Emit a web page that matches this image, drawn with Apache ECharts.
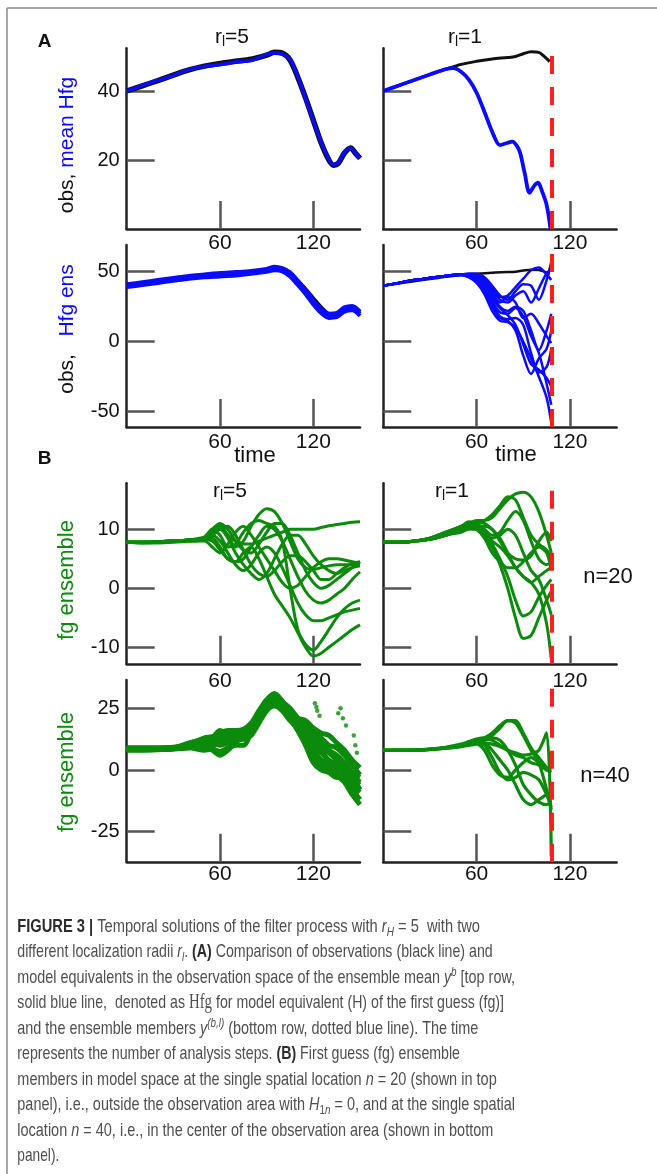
<!DOCTYPE html>
<html><head><meta charset="utf-8">
<script src="https://cdn.jsdelivr.net/npm/echarts@6/dist/echarts.min.js"></script>
<style>html,body{margin:0;padding:0;background:#fff;}#c{width:657px;height:1174px;}</style>
</head><body><div id="c"></div>
<script>
// ---------------- DATA ----------------
const xTicks = [60, 120];
const yTicksA1 = [20, 40];
const yTicksA2 = [-50, 0, 50];
const yTicksB1 = [-10, 0, 10];
const yTicksB2 = [-25, 0, 25];
const breakTime = 108.6;

// Panel A, top row (r_l = 5)
const timeA5 = [0,10,20,30,40,50,60,70,80,90,95,100,105,110,115,120,125,130,133,136,140,144,147,150];
const obsR5 = [40,41.5,43,44.6,46.1,47.2,48,48.6,49.2,50.4,51.2,51,49,44,38,31.5,25,20,18.5,19,22,23.5,22,20.5];
const meanHfgR5 = [40,41.6,43.1,44.5,46.2,47.1,47.6,48.4,48.8,50.6,51,50.7,49.2,44.2,37.8,31.3,25.2,20.2,18.6,19.2,22.2,23.4,22.1,20.4];

// Panel A, r_l = 1
const timeObsR1 = [0,10,20,30,40,50,60,70,80,85,90,95,100,104,107];
const obsR1 = [40,41.6,43.2,44.8,46.3,47.7,48.6,49.3,49.7,50,50.8,51.4,51.2,49.8,48.5];
const timeMeanR1 = [0,10,20,30,40,45,50,55,60,65,70,75,80,83,86,88,91,94,97,99.5,102,105,107.5];
const meanHfgR1 = [40,41.6,43.2,44.8,46.3,46.6,45.6,43.3,39.5,34,28.2,24.3,25,25.3,24,22,16,10.5,12.5,13.4,11,7,0];

// Panel A, bottom row: ensemble members in observation space
const timeEnsR5 = [0,10,20,30,40,50,60,70,80,90,95,100,105,110,115,120,125,130,135,140,145,150];
const hfgEnsR5 = [
  [40,41.5,43,44.5,46,47,47.8,48.5,49.5,51,52.4,51.5,48,42,35.5,28,22,18.5,19,23,24,20],
  [41,42.5,44,45.5,47,48,49,49.7,50.5,52,53.5,52.5,49.5,43.5,37,29.5,23.5,20,20.5,24.5,25.5,21.5],
  [39,40.5,42,43.5,45,46,46.6,47.3,48.5,50,51,50.3,46.5,40.5,34,26.5,20.5,17,17.5,21.5,22.5,18.5]
];
const timeR1 = [0,10,20,30,40,50,55,60,65,70,75,80,85,90,95,100,105,108];
const hfgEnsR1 = [
  [40,42,44,45.5,47,47.5,46,42,34,22,15,14,10,0,-12,-25,-40,-58],
  [40,42,44,45.5,47,47.8,47,45,38,27,18,16,17,12,-8,-22,-18,-5],
  [40,42,44,45.5,47,48,48,47,42,33,25,22,25,22,8,-6,8,20],
  [40,42,44,45.5,47,48,48.5,48.5,46,40,33,30,36,41,40,30,44,57],
  [40,42,44,45.5,47,47.8,46.5,43,36,25,17,15,8,-10,-23,-12,-5,8],
  [40,42,44,45.5,47,48,48,47.5,44,37,30,28,33,36,28,38,49,52],
  [40,42,44,45.5,47,47.8,47,44.5,39,29,21,20,24,18,4,-8,-30,-45],
  [40,42,44,45.5,47,48,47.5,45.5,40,31,24,19,12,-2,-16,-20,-26,-32],
  [40,42,44,45.5,47,48,48,47,43,35,28,32,28,17,20,13,4,-1],
  [40,42,44,45.5,47,48,48.5,48,45,38,32,33,39,45,51,53,48,44]
];

// Panel B: first guess ensemble in model space
const timeB5 = [0,10,20,30,40,50,55,60,65,70,75,80,85,90,95,100,105,110,115,120,125,130,135,140,145,150];
const fgN20R5 = [
  [7.8,7.8,7.9,8,8.2,8.5,9.5,10.5,9,7,8,10.5,12.5,13.5,13,11,8,5,3.5,3.2,3.5,3.8,4,4,4,4],
  [7.8,7.7,7.8,8,8,8,7,6,7.5,9.5,10.5,9,7,5,3,1,0,0.5,2,3.5,4.5,5,5,4.8,4.5,4.2],
  [7.8,7.8,7.9,8,8.2,8.5,10,10.5,9,8,7.5,7.5,8,8.5,9,9.5,10,10,10,10,10.3,10.6,10.8,11,11.2,11.3],
  [7.8,7.8,7.9,8,8.2,8.7,10,9,7,7.5,9.5,11,11.5,11,10.5,8,0,-7,-9.5,-10.5,-9,-7,-5,-3.5,-2.5,-2],
  [7.8,7.8,7.9,8,8,8.2,8.5,7,5,4.5,6,7,5,2,-1,-3,-5,-7.5,-10,-11.5,-11,-10,-9,-8,-7,-6.2],
  [7.8,7.8,7.9,8,8.2,8.5,9,8,6,4,3,4,6,7,6,3.5,0.5,-2.5,-4.5,-5.5,-5.5,-5,-4.5,-4,-3.7,-3.4],
  [7.8,7.7,7.7,7.8,8,8.3,9,10,10.5,9,6.5,4,2.5,2,3,4.5,5.5,5.5,4.5,3,1.5,1.5,2.5,3.5,4.2,4.5],
  [7.8,7.8,7.9,8,8.2,8.5,9.5,10,8.5,6,4,2.5,1.5,2.5,5,7.5,9,9,7.5,5.5,4,3,2.5,3,3.5,3.8],
  [7.8,7.8,7.9,8,8.2,8.3,8,6.5,5,4.5,5,7,9,10.5,10,8,5,2,-0.5,-2,-2.5,-2,-1,0,1.5,2.8],
  [7.8,7.8,7.9,8,8.2,8.5,10,11,10,8,6.5,6,7.5,9.5,11,11,9,6,3,1,0,0.5,1.5,2.5,3.5,4.5]
];
const fgN20R1 = [
  [7.8,7.8,8,8.5,9.5,10.5,11,11.5,11.5,12,13.5,15,16,16.3,15.5,13,9,6],
  [7.8,7.8,8,8.3,9,9.5,10,10,9,7,4,0,-5,-8.5,-8,-5,-2,-0.5],
  [7.8,7.8,8,8.3,9,10,10.5,10.5,9.5,7.5,5,2,-2,-4.7,-4,-1.5,0.5,1.5],
  [7.8,7.8,8,8.5,9.3,10.5,11.3,11,10,9,9.5,11.5,13,11.5,8,5,4,4.5],
  [7.8,7.8,8,8.3,9,10,10.5,10,8.5,6,4.5,3.5,3.5,4.5,6,7,6,3],
  [7.8,7.8,8,8.5,9.3,10.5,11,11.2,11,10,8.5,6,3.5,2,1,-1,-6,-12],
  [7.8,7.8,8,8.4,9.2,10,10.8,11,11.5,12.5,14,15.5,15,12,9,7.5,6.5,5],
  [7.8,7.8,8,8.3,9,10,10.5,10.5,10.5,10,8,6,5,4.8,5.5,8,9.5,8],
  [7.8,7.8,8,8.3,9,9.8,10.2,10,9,8,7,5.5,3.5,2,1,2,3,3.5],
  [7.8,7.8,8,8.5,9.5,10.5,11,10.5,9.5,8.5,9,10,9,6,3,1.5,-2,-4.5]
];
const fgN40R5 = [
  [8,8,8.2,8.5,9,8,8.5,7.5,9,10,10,15,21,26,27,25,21,16,11,6,2,0,-2,-4,-8,-12],
  [9,9,9,9.2,10.5,13,13.5,15,16,16,16.5,19,24,28.5,31,28,24,20,18,15,13,10,9,6,2,-2],
  [8.5,8.5,8.5,8.6,9,9.5,10,11,12.5,14,15,17,22,27,29,27,23,20,16,12,8,3,-2,-5,-10,-14],
  [8.2,8.2,8.3,8.6,10,11,12,14,15,15,14.5,16,20,25,27,26,21,16,10,3,0,-1,-3,-1,-4,-6],
  [8.8,8.8,8.8,9,9.5,10.5,12,13,14,15.5,16,18,23,27.5,29.5,27,23,21,20,17,15,14,11,8,4,1],
  [8.5,8.5,8.6,8.8,9.7,10,8,6,8,11,14,17.5,22,26,26,24,20,17,13,9,7,4,2,0,-3,-8],
  [8.3,8.3,8.4,8.7,9.2,10.5,11.5,12.5,12,13,14,16,21,26.5,28.5,27.5,25,21,17,14,11,8,6,3,-1,-3],
  [8.7,8.7,8.7,9,10,11.5,13,16,14,13.5,15,17.5,22.5,28,30,26,21.5,18,15,11,9,7,4,1,-2,-5],
  [8.4,8.4,8.5,8.8,11,12,11,10,11,12,12.5,14,19,24,26,25,22,18,14,8,4,2,0,-3,-6,-9]
];
const outliersN40R5 = [[121,27],[122,25.5],[122.5,24],[124,22],[136,23],[137.5,25],[139,21],[141,18],[146,14],[147,10],[148,7]];
const fgN40R1 = [
  [8,8,8,8.5,9,10,10.5,11,12,14,17,20,20,15,9,5,1,0],
  [8,8,8,8.3,8.8,9.5,10,10.5,8,2,-2,-3,0,3,5,3,0,-0.5],
  [8,8,8.1,8.4,9,10,11,11.5,11,8,4,0,-6,-12,-14,-12,-10,-9],
  [8,8,8,8.3,8.9,9.8,10.5,12,13,15,18,20,19,14,8,3,-8,-16],
  [8,8,8,8.4,9,10,11,12,12.5,12,10,8,6,5,3,2,0,-1],
  [8,8,8,8.3,8.8,9.5,10.5,11,10,5,-1,-4,-3,-1,-2,-4,-10,-15],
  [8,8,8.1,8.5,9.2,10.5,11.5,12.5,13,13,12,8,2,-6,-10,-13,-14,-13],
  [8,8,8,8.3,9,10,11,11.5,11,10.5,9.5,8,7,6,6.5,8,15,-35]
];

// ---------------- CHART ----------------
const F = '"Liberation Sans", Arial, Helvetica, sans-serif';
const BLUE = '#0a0aff', GREEN = '#0c8a0c', BLACK = '#111', RED = '#ff1e1e';
const pairs = (t, v) => t.map((x, i) => [x, v[i]]);

const gridBoxes = [
  {left:126.7, top:48.2, width:233.3, height:180.8},
  {left:383.3, top:48.2, width:233.3, height:180.8},
  {left:126.7, top:245.1, width:233.3, height:182},
  {left:383.3, top:245.1, width:233.3, height:182},
  {left:126.7, top:483.3, width:233.3, height:180.5},
  {left:383.3, top:483.3, width:233.3, height:180.5},
  {left:126.7, top:679.9, width:233.3, height:181.9},
  {left:383.3, top:679.9, width:233.3, height:181.9}
];
const yCfg = [
  [0, 52.4, yTicksA1, true], [0, 52.4, yTicksA1, false],
  [-61, 69, yTicksA2, true], [-61, 69, yTicksA2, false],
  [-12.8, 17.8, yTicksB1, true], [-12.8, 17.8, yTicksB1, false],
  [-37.2, 36.5, yTicksB2, true], [-37.2, 36.5, yTicksB2, false]
];
const xMargins = [4, 4, 5, 5, 7, 7, 2, 2];

const xAxes = gridBoxes.map((g, i) => ({
  gridIndex: i, type: 'value', min: 0, max: 150,
  axisLine: {show: true, onZero: false, lineStyle: {color: '#222', width: 2.5}},
  axisTick: {show: true, inside: true, length: 28, customValues: xTicks, lineStyle: {color: '#555', width: 2.5}},
  axisLabel: {show: true, customValues: xTicks, margin: xMargins[i], fontSize: 21, color: '#111', fontFamily: F},
  splitLine: {show: false}
}));
const yAxes = yCfg.map((c, i) => ({
  gridIndex: i, type: 'value', min: c[0], max: c[1],
  axisLine: {show: true, onZero: false, lineStyle: {color: '#222', width: 2.5}},
  axisTick: {show: true, inside: true, length: 28, customValues: c[2], lineStyle: {color: '#555', width: 2.5}},
  axisLabel: {show: c[3], customValues: c[2], margin: 7, fontSize: 20, color: '#111', fontFamily: F},
  splitLine: {show: false}
}));

const series = [];
function addLine(g, t, v, color, width, extra) {
  const s = {type: 'line', xAxisIndex: g, yAxisIndex: g, data: pairs(t, v), showSymbol: false,
    smooth: 0.3, silent: true, lineStyle: {color: color, width: width}, z: 2};
  if (extra) Object.assign(s, extra);
  series.push(s);
  return s;
}
const redLine = {silent: true, symbol: ['none', 'none'], label: {show: false},
  lineStyle: {color: RED, width: 4, type: [18, 13]}, data: [{xAxis: breakTime}]};

// A top-left
addLine(0, timeA5, obsR5, BLACK, 5.5);
addLine(0, timeA5, meanHfgR5, BLUE, 3.5);
// A top-right
addLine(1, timeObsR1, obsR1, BLACK, 3);
addLine(1, timeMeanR1, meanHfgR1, BLUE, 3.8, {markLine: redLine, z: 3});
// A bottom-left
addLine(2, timeA5, obsR5, BLACK, 3);
hfgEnsR5.forEach(v => addLine(2, timeEnsR5, v, BLUE, 4));
// A bottom-right
addLine(3, timeObsR1, obsR1, BLACK, 2.5);
hfgEnsR1.forEach((v, k) => addLine(3, timeR1, v, BLUE, 2.5, k === hfgEnsR1.length - 1 ? {markLine: redLine, z: 3} : null));
// B top-left
fgN20R5.forEach(v => addLine(4, timeB5, v, GREEN, 3));
// B top-right
fgN20R1.forEach((v, k) => addLine(5, timeR1, v, GREEN, 3, k === fgN20R1.length - 1 ? {markLine: redLine, z: 3} : null));
// B bottom-left
fgN40R5.forEach(v => addLine(6, timeB5, v, GREEN, 5));
series.push({type: 'scatter', xAxisIndex: 6, yAxisIndex: 6, data: outliersN40R5, symbolSize: 4.5,
  itemStyle: {color: GREEN}, silent: true, z: 2});
// B bottom-right
fgN40R1.forEach((v, k) => addLine(7, timeR1, v, GREEN, 3.2, k === fgN40R1.length - 1 ? {markLine: redLine, z: 3} : null));

// ---------------- TEXT ----------------
function txt(x, y, text, rich, base, extra) {
  const st = Object.assign({text: text, rich: rich || {}, fontFamily: F, fontSize: 21, fill: '#111',
    align: 'center', textAlign: 'center', verticalAlign: 'middle', textVerticalAlign: 'middle'}, base || {});
  return Object.assign({type: 'text', x: x, y: y, style: st, silent: true, z: 10}, extra || {});
}
const titleRich = {
  r: {fontSize: 21, fontFamily: F, fill: '#111', lineHeight: 24},
  s: {fontSize: 14, fontFamily: F, fill: '#111', lineHeight: 12, verticalAlign: 'bottom'}
};
const nameRich = {
  k: {fontSize: 21, fontFamily: F, fill: '#111'},
  b: {fontSize: 21, fontFamily: F, fill: BLUE},
  g: {fontSize: 22, fontFamily: F, fill: GREEN}
};
const graphics = [
  {type: 'line', shape: {x1: 7, y1: 8, x2: 657, y2: 8}, style: {stroke: '#8a8a8a', lineWidth: 1.5}, silent: true},
  {type: 'line', shape: {x1: 7, y1: 8, x2: 7, y2: 1174}, style: {stroke: '#8a8a8a', lineWidth: 1.5}, silent: true},
  txt(44.5, 41.5, 'A', null, {fontWeight: 'bold', fontSize: 19}),
  txt(44.5, 458.5, 'B', null, {fontWeight: 'bold', fontSize: 19}),
  txt(232, 37, '{r|r}{s|l}{r|=5}', titleRich),
  txt(465, 37, '{r|r}{s|l}{r|=1}', titleRich),
  txt(230, 491, '{r|r}{s|l}{r|=5}', titleRich),
  txt(452, 491, '{r|r}{s|l}{r|=1}', titleRich),
  txt(67, 145, '{k|obs, }{b|mean Hfg}', nameRich, null, {rotation: Math.PI / 2}),
  txt(67, 329, '{k|obs,   }{b|Hfg ens}', nameRich, null, {rotation: Math.PI / 2}),
  txt(67, 580, '{g|fg ensemble}', nameRich, null, {rotation: Math.PI / 2}),
  txt(67, 772, '{g|fg ensemble}', nameRich, null, {rotation: Math.PI / 2}),
  txt(255, 456, 'time', null, {fontSize: 22}),
  txt(516, 455, 'time', null, {fontSize: 22}),
  txt(608, 577, 'n=20', null, {fontSize: 22}),
  txt(605, 776, 'n=40', null, {fontSize: 22})
];

// caption
const capStyles = {
  n: {fontSize: 19, fontFamily: F, fill: '#4f4f4f', lineHeight: 24},
  b: {fontSize: 19, fontFamily: F, fontWeight: 'bold', fill: '#2c2c2c', lineHeight: 24},
  i: {fontSize: 19, fontFamily: F, fontStyle: 'italic', fill: '#4f4f4f', lineHeight: 24},
  isub: {fontSize: 13, fontFamily: F, fontStyle: 'italic', fill: '#4f4f4f', lineHeight: 13, verticalAlign: 'bottom'},
  sub: {fontSize: 13, fontFamily: F, fill: '#4f4f4f', lineHeight: 13, verticalAlign: 'bottom'},
  isup: {fontSize: 13, fontFamily: F, fontStyle: 'italic', fill: '#4f4f4f', lineHeight: 13, verticalAlign: 'top'},
  serif: {fontSize: 20, fontFamily: '"Liberation Serif", "DejaVu Serif", serif', fill: '#4f4f4f', lineHeight: 24}
};
const capLines = [
  [['b', 'FIGURE 3 | '], ['n', 'Temporal solutions of the filter process with '], ['i', 'r'], ['isub', 'H'], ['n', ' = 5  with two']],
  [['n', 'different localization radii '], ['i', 'r'], ['isub', 'l'], ['n', '. '], ['b', '(A)'], ['n', ' Comparison of observations (black line) and']],
  [['n', 'model equivalents in the observation space of the ensemble mean '], ['i', 'y'], ['isup', 'b'], ['n', ' [top row,']],
  [['n', 'solid blue line,  denoted as '], ['serif', 'Hfg'], ['n', ' for model equivalent (H) of the first guess (fg)]']],
  [['n', 'and the ensemble members '], ['i', 'y'], ['isup', '(b,l)'], ['n', ' (bottom row, dotted blue line). The time']],
  [['n', 'represents the number of analysis steps. '], ['b', '(B)'], ['n', ' First guess (fg) ensemble']],
  [['n', 'members in model space at the single spatial location '], ['i', 'n'], ['n', ' = 20 (shown in top']],
  [['n', 'panel), i.e., outside the observation area with '], ['i', 'H'], ['sub', '1'], ['isub', 'n'], ['n', ' = 0, and at the single spatial']],
  [['n', 'location '], ['i', 'n'], ['n', ' = 40, i.e., in the center of the observation area (shown in bottom']],
  [['n', 'panel).']]
];
const capWidths = [462.7, 475.4, 497.7, 486.7, 461, 442.7, 479.4, 497.7, 476, 42];
const ctx = document.createElement('canvas').getContext('2d');
function segW(seg) {
  const s = capStyles[seg[0]];
  ctx.font = ((s.fontStyle || '') + ' ' + (s.fontWeight || '') + ' ' + s.fontSize + 'px ' + s.fontFamily).trim();
  return ctx.measureText(seg[1]).width;
}
capLines.forEach((line, i) => {
  const w = line.reduce((a, s) => a + segW(s), 0);
  const sc = capWidths[i] / w;
  const text = line.map(s => '{' + s[0] + '|' + s[1] + '}').join('');
  graphics.push({type: 'text', x: 17.3, y: 926.7 + 25.5 * i, scaleX: sc, silent: true, z: 10,
    style: {text: text, rich: capStyles, fontFamily: F, fontSize: 19, fill: '#4f4f4f',
      align: 'left', textAlign: 'left', verticalAlign: 'middle', textVerticalAlign: 'middle'}});
});

const chart = echarts.init(document.getElementById('c'), null, {renderer: 'canvas'});
chart.setOption({
  animation: false,
  backgroundColor: '#fff',
  grid: gridBoxes,
  xAxis: xAxes,
  yAxis: yAxes,
  series: series,
  graphic: {elements: graphics}
});
</script></body></html>
